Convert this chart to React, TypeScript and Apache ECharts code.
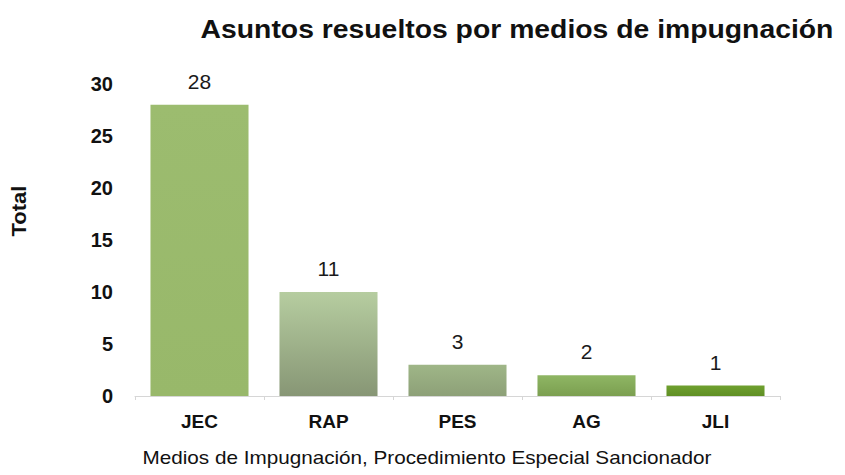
import React, { useEffect, useRef } from "react";
import * as echarts from "echarts";

const categories = ["JEC", "RAP", "PES", "AG", "JLI"];
const barValues = [28, 10, 3, 2, 1];
const barLabels = ["28", "11", "3", "2", "1"];
const topColors = ["#9cbc6f", "#b6cda0", "#9fb687", "#8fb664", "#6fa02f"];
const bottomColors = ["#98b86a", "#879675", "#8da078", "#7b9f50", "#5f8f24"];
const yTicks = [0, 5, 10, 15, 20, 25, 30];

const titleText = "Asuntos resueltos por medios de impugnación";
const xAxisTitle = "Medios de Impugnación, Procedimiento Especial Sancionador";
const yAxisTitle = "Total";

export default function App() {
  const ref = useRef<HTMLDivElement>(null);
  useEffect(() => {
    if (!ref.current) return;
    const chart = echarts.init(ref.current, null, { renderer: "svg" });
    const font = "'Liberation Sans', Arial, sans-serif";
    chart.setOption({
      animation: false,
      backgroundColor: "#ffffff",
      grid: { left: 135, right: 65, top: 84, bottom: 79, containLabel: false },
      xAxis: {
        type: "category",
        data: categories,
        axisLine: { show: true, lineStyle: { color: "#d6d6d6", width: 1 } },
        axisTick: { show: true, length: 4, lineStyle: { color: "#d6d6d6" } },
        axisLabel: {
          margin: 16,
          fontFamily: font,
          fontWeight: "bold",
          fontSize: 19,
          color: "#111111",
        },
      },
      yAxis: {
        type: "value",
        min: yTicks[0],
        max: yTicks[yTicks.length - 1],
        interval: 5,
        axisLine: { show: false },
        axisTick: { show: false },
        splitLine: { show: false },
        axisLabel: {
          margin: 22,
          fontFamily: font,
          fontWeight: "bold",
          fontSize: 20,
          color: "#111111",
        },
      },
      series: [
        {
          type: "bar",
          barCategoryGap: "24%",
          data: barValues.map((v, i) => ({
            value: v,
            itemStyle: {
              color: new echarts.graphic.LinearGradient(0, 0, 0, 1, [
                { offset: 0, color: topColors[i] },
                { offset: 1, color: bottomColors[i] },
              ]),
            },
          })),
          label: {
            show: true,
            position: "top",
            distance: 13,
            fontFamily: font,
            fontSize: 21,
            color: "#1a1a1a",
            formatter: (p: any) => barLabels[p.dataIndex],
          },
        },
      ],
      graphic: [
        {
          type: "text",
          x: 517,
          y: 29,
          scaleX: 1.09,
          style: {
            text: titleText,
            fontFamily: font,
            fontWeight: "bold",
            fontSize: 26,
            fill: "#111111",
            align: "center",
            verticalAlign: "middle",
          },
        },
        {
          type: "text",
          x: 427,
          y: 458,
          scaleX: 1.15,
          style: {
            text: xAxisTitle,
            fontFamily: font,
            fontSize: 18,
            fill: "#111111",
            align: "center",
            verticalAlign: "middle",
          },
        },
        {
          type: "text",
          x: 19,
          y: 211,
          rotation: Math.PI / 2,
          scaleX: 1.1,
          style: {
            text: yAxisTitle,
            fontFamily: font,
            fontWeight: "bold",
            fontSize: 20,
            fill: "#111111",
            align: "center",
            verticalAlign: "middle",
          },
        },
      ],
    });
    return () => chart.dispose();
  }, []);
  return <div ref={ref} style={{ width: 845, height: 475, position: "absolute", left: 0, top: 0 }} />;
}
